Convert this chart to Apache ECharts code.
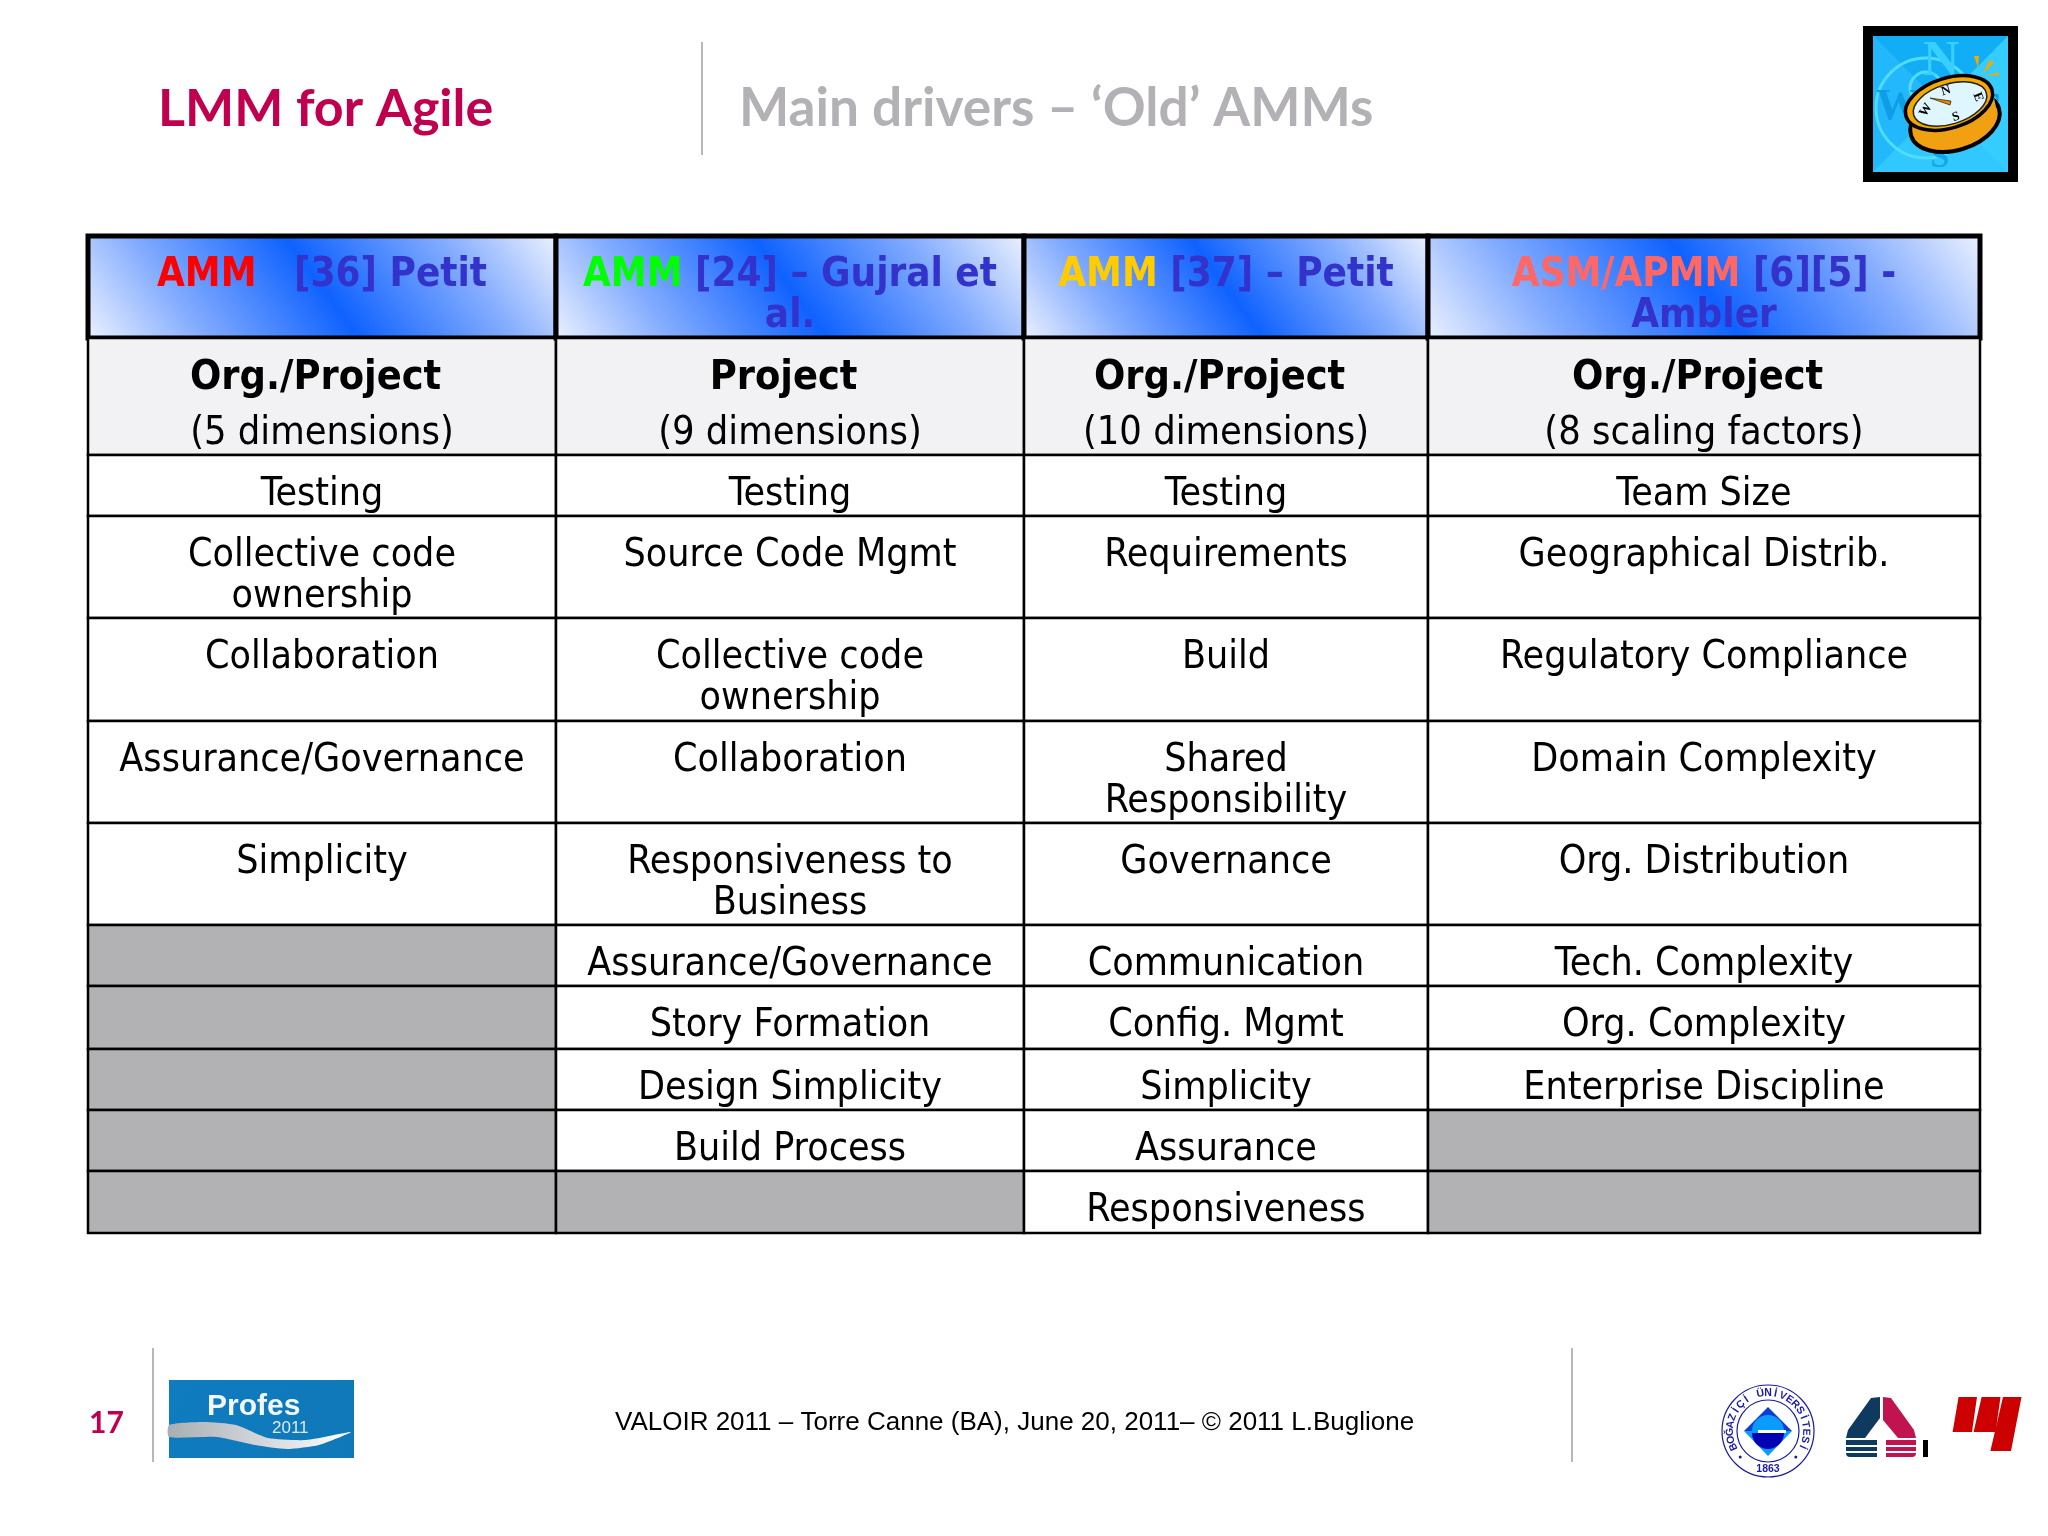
<!DOCTYPE html>
<html>
<head>
<meta charset="utf-8">
<title>LMM for Agile</title>
<script src="https://cdn.jsdelivr.net/npm/echarts@6/dist/echarts.min.js"></script>
<style>
html, body { margin: 0; padding: 0; background: #fff; }
#main { width: 2048px; height: 1536px; }
</style>
</head>
<body>
<div id="main"></div>
<script>
// table content, one list per column, null = greyed out cell
var headAmm = ['AMM', 'AMM', 'AMM', 'ASM/APMM'];
var headRef = ['   [36] Petit', ' [24] – Gujral et\nal.', ' [37] – Petit', ' [6][5] -\nAmbler'];
var headColor = ['#ff0000', '#00ff00', '#ffcc00', '#ff6666'];
var scopes = ['Org./Project', 'Project', 'Org./Project', 'Org./Project'];
var scopeNotes = ['(5 dimensions)', '(9 dimensions)', '(10 dimensions)', '(8 scaling factors)'];
var petit36 = ['Testing', 'Collective code\nownership', 'Collaboration', 'Assurance/Governance', 'Simplicity', null, null, null, null, null];
var gujral = ['Testing', 'Source Code Mgmt', 'Collective code\nownership', 'Collaboration', 'Responsiveness to\nBusiness', 'Assurance/Governance', 'Story Formation', 'Design Simplicity', 'Build Process', null];
var petit37 = ['Testing', 'Requirements', 'Build', 'Shared\nResponsibility', 'Governance', 'Communication', 'Config. Mgmt', 'Simplicity', 'Assurance', 'Responsiveness'];
var ambler = ['Team Size', 'Geographical Distrib.', 'Regulatory Compliance', 'Domain Complexity', 'Org. Distribution', 'Tech. Complexity', 'Org. Complexity', 'Enterprise Discipline', null, null];

// layout of the table
var colWidths = [468, 468, 404, 552];
var rowHeights = [102, 117, 61, 102, 103, 102, 102, 61, 63, 61, 61, 62];
var bodyFont = '"DejaVu Sans Condensed"';

function sum(list, n) {
    var s = 0;
    for (var i = 0; i < n; i++) s += list[i];
    return s;
}

var columns = [petit36, gujral, petit37, ambler];
var cells = [];
for (var c = 0; c < 4; c++) {
    cells.push({ value: [c, 0], kind: 'head' });
    cells.push({ value: [c, 1], kind: 'scope' });
    for (var r = 0; r < columns[c].length; r++) {
        cells.push({ value: [c, r + 2], kind: columns[c][r] === null ? 'grey' : 'body', text: columns[c][r] });
    }
}

// diagonal blue band, light in the lower left and upper right corners
function headGradient(w, h) {
    var len = Math.sqrt(100 * 100 + 70 * 70);
    var ux = 100 / len, uy = -70 / len;
    var d = (w / 2) * ux + (h / 2) * -uy;
    return new echarts.graphic.LinearGradient(
        0.5 - d * ux / w, 0.5 - d * uy / h, 0.5 + d * ux / w, 0.5 + d * uy / h,
        [{ offset: 0, color: '#f2f6ff' }, { offset: 0.22, color: '#85adff' }, { offset: 0.5, color: '#0f62ff' }, { offset: 0.78, color: '#85adff' }, { offset: 1, color: '#f2f6ff' }]
    );
}

function renderCell(params, api) {
    var c = api.value(0), r = api.value(1);
    var cell = cells[params.dataIndex];
    var p0 = api.coord([sum(colWidths, c), sum(rowHeights, r)]);
    var p1 = api.coord([sum(colWidths, c + 1), sum(rowHeights, r + 1)]);
    var x = p0[0], y = p0[1], w = p1[0] - p0[0], h = p1[1] - p0[1];
    var fill = '#ffffff';
    if (cell.kind === 'grey') fill = '#b2b2b4';
    if (cell.kind === 'scope') fill = '#f2f2f4';
    if (cell.kind === 'head') fill = headGradient(w, h);
    var kids = [{
        type: 'rect',
        shape: { x: x, y: y, width: w, height: h },
        style: { fill: fill, stroke: '#000', lineWidth: cell.kind === 'head' ? 5 : 2.5 }
    }];
    var cx = x + w / 2;
    if (cell.kind === 'head') {
        kids.push({
            type: 'text',
            style: {
                x: cx, y: y + 19, align: 'center', verticalAlign: 'top',
                text: '{amm|' + headAmm[c] + '}{ref|' + headRef[c].replace('\n', '}\n{ref|') + '}',
                rich: {
                    amm: { fontFamily: bodyFont, fontWeight: 'bold', fontSize: 40, lineHeight: 41, fill: headColor[c], color: headColor[c] },
                    ref: { fontFamily: bodyFont, fontWeight: 'bold', fontSize: 40, lineHeight: 41, fill: '#3333cc', color: '#3333cc' }
                }
            }
        });
    } else if (cell.kind === 'scope') {
        // the bold line sits a little left of centre, it has a trailing space
        kids.push({
            type: 'text',
            style: {
                x: cx, y: y + 13, align: 'center', verticalAlign: 'top',
                text: '{b|' + scopes[c] + '\u00a0}\n{n|' + scopeNotes[c] + '}',
                rich: {
                    b: { fontFamily: bodyFont, fontWeight: 'bold', fontSize: 41, lineHeight: 55, color: '#000' },
                    n: { fontFamily: bodyFont, fontSize: 39.4, lineHeight: 55, color: '#000' }
                }
            }
        });
    } else if (cell.kind === 'body') {
        kids.push({
            type: 'text',
            style: {
                x: cx, y: y + 19, align: 'center', verticalAlign: 'top',
                text: cell.text, fontFamily: bodyFont, fontSize: 39, lineHeight: 41, fill: '#000'
            }
        });
    }
    return { type: 'group', children: kids };
}

// compass picture, top right corner
function compassIcon() {
    var ox = 1873, oy = 36, w = 135, h = 136, mx = ox + w / 2, my = oy + h / 2;
    function letter(t, x, y, size, col) {
        return { type: 'text', style: { text: t, x: x, y: y, align: 'center', verticalAlign: 'middle', fontFamily: '"Liberation Serif"', fontWeight: 'bold', fontSize: size, fill: col } };
    }
    function dial(t, x, y, rot) {
        return { type: 'text', x: x, y: y, rotation: rot, style: { text: t, align: 'center', verticalAlign: 'middle', fontFamily: '"Liberation Serif"', fontWeight: 'bold', fontSize: 13, fill: '#000' } };
    }
    function ell(cx, cy, rx, ry, fill, stroke, lw) {
        return { type: 'ellipse', x: cx, y: cy, rotation: 0.3, shape: { cx: 0, cy: 0, rx: rx, ry: ry }, style: { fill: fill, stroke: stroke, lineWidth: lw } };
    }
    return [
        { type: 'rect', shape: { x: 1863, y: 26, width: 155, height: 156 }, style: { fill: '#000' } },
        { type: 'rect', shape: { x: ox, y: oy, width: w, height: h }, style: { fill: '#35ccff' } },
        { type: 'polygon', shape: { points: [[ox, oy], [ox + w, oy], [mx, my]] }, style: { fill: '#12aef5' } },
        { type: 'polygon', shape: { points: [[ox, oy + h], [ox + w, oy + h], [mx, my]] }, style: { fill: '#30c8ff' } },
        { type: 'polygon', shape: { points: [[ox, oy], [ox, oy + h], [mx, my]] }, style: { fill: '#22b8fb' } },
        { type: 'circle', shape: { cx: 1926, cy: 108, r: 50 }, style: { fill: 'none', stroke: '#4fdcff', lineWidth: 3 } },
        { type: 'circle', shape: { cx: 1926, cy: 88, r: 16 }, style: { fill: 'none', stroke: '#4fdcff', lineWidth: 3 } },
        letter('N', 1941, 62, 50, '#38cfff'), letter('W', 1898, 108, 44, '#0f9ee6'), letter('E', 1988, 112, 44, '#0f9ee6'), letter('S', 1940, 158, 34, '#12a6ea'),
        { type: 'polygon', shape: { points: [[1974, 56], [1979, 56], [1978, 68]] }, style: { fill: '#f5a800' } },
        { type: 'polygon', shape: { points: [[1990, 60], [1994, 63], [1982, 74]] }, style: { fill: '#f5a800' } },
        { type: 'polygon', shape: { points: [[1985, 76], [1999, 72], [1999, 75]] }, style: { fill: '#f5a800' } },
        ell(1955, 122, 46, 28, '#f0a010', '#000', 4),
        { type: 'polygon', shape: { points: [[1909, 112], [1913, 130], [1996, 108], [1993, 92]] }, style: { fill: '#f0a010' } },
        ell(1949, 103, 45, 25, '#f5a800', '#000', 3.5),
        ell(1950, 104, 38, 20, '#dff6ff', '#222', 1.5),
        { type: 'polygon', shape: { points: [[1930, 98], [1951, 101], [1950, 105]] }, style: { fill: '#e58a00', stroke: '#000', lineWidth: 0.6 } },
        dial('N', 1946, 91, 0.3), dial('E', 1978, 97, -1.2), dial('S', 1956, 117, 0.3), dial('W', 1926, 110, 1.0)
    ];
}

// blue conference badge next to the page number
function profesLogo() {
    return [
        { type: 'rect', shape: { x: 169, y: 1380, width: 185, height: 78 }, style: { fill: new echarts.graphic.LinearGradient(0, 0, 1, 1, [{ offset: 0, color: '#0f7cc0' }, { offset: 1, color: '#0f78b8' }]) } },
        { type: 'polygon', shape: { smooth: 0.2, points: [[169, 1425], [204, 1422], [236, 1425], [268, 1438], [306, 1440], [351, 1432], [319, 1445], [287, 1449], [255, 1445], [217, 1437], [169, 1437]] }, style: { fill: new echarts.graphic.LinearGradient(0, 0, 1, 0, [{ offset: 0, color: '#a9aeb2' }, { offset: 0.5, color: '#d2d6da' }, { offset: 1, color: '#ffffff' }]) } },
        { type: 'text', style: { text: 'Profes', x: 207, y: 1407, verticalAlign: 'middle', fontFamily: '"Liberation Sans"', fontWeight: 'bold', fontSize: 30, fill: '#f2f7fb' } },
        { type: 'text', style: { text: '2011', x: 272, y: 1428, verticalAlign: 'middle', fontFamily: '"Liberation Sans"', fontSize: 17, fill: '#dbeaf4' } }
    ];
}

// university seal with the name set around the ring
function sealLogo() {
    var cx = 1768, cy = 1431, name = 'BOĞAZİÇİ ÜNİVERSİTESİ';
    var els = [
        { type: 'circle', shape: { cx: cx, cy: cy, r: 46 }, style: { fill: '#fff', stroke: '#1a1aa0', lineWidth: 1.2 } },
        { type: 'circle', shape: { cx: cx, cy: cy, r: 31 }, style: { fill: '#fff', stroke: '#1a1aa0', lineWidth: 1.2 } },
        { type: 'polygon', shape: { points: [[cx - 24, cy], [cx, cy - 24], [cx + 24, cy]] }, style: { fill: '#0a3fd0' } },
        { type: 'polygon', shape: { points: [[cx - 24, cy], [cx, cy + 25], [cx + 24, cy]] }, style: { fill: '#0a9bff' } },
        { type: 'sector', shape: { cx: cx, cy: cy, r: 16, startAngle: Math.PI, endAngle: 2 * Math.PI }, style: { fill: '#0a9bff' } },
        { type: 'sector', shape: { cx: cx, cy: cy + 2, r: 16, startAngle: 0, endAngle: Math.PI }, style: { fill: '#0000b4' } },
        { type: 'rect', shape: { x: cx - 10, y: cy - 1, width: 28, height: 3 }, style: { fill: '#fff' } },
        { type: 'text', style: { text: '1863', x: cx, y: cy + 38, align: 'center', verticalAlign: 'middle', fontFamily: '"Liberation Sans"', fontWeight: 'bold', fontSize: 10.5, fill: '#1a1aa0' } }
    ];
    var span = 2.0;
    for (var i = 0; i < name.length; i++) {
        var a = -span + (2 * span) * i / (name.length - 1);
        els.push({
            type: 'text', x: cx + 38 * Math.sin(a), y: cy - 38 * Math.cos(a), rotation: -a,
            style: { text: name.charAt(i), align: 'center', verticalAlign: 'middle', fontFamily: '"Liberation Sans"', fontWeight: 'bold', fontSize: 10.5, fill: '#1a1aa0' }
        });
    }
    els.push({ type: 'circle', shape: { cx: cx - 38 * Math.sin(2.32), cy: cy - 38 * Math.cos(2.32), r: 1.5 }, style: { fill: '#1a1aa0' } });
    els.push({ type: 'circle', shape: { cx: cx + 38 * Math.sin(2.32), cy: cy - 38 * Math.cos(2.32), r: 1.5 }, style: { fill: '#1a1aa0' } });
    return els;
}

function otherLogos() {
    var navy = '#0f3a5f', crim = '#c0134f', red = '#cc0000';
    var els = [
        { type: 'polygon', shape: { points: [[1880, 1397], [1871, 1398], [1848, 1430], [1846, 1438], [1865, 1438], [1880, 1418]] }, style: { fill: navy } },
        { type: 'polygon', shape: { points: [[1883, 1397], [1891, 1398], [1914, 1430], [1916, 1438], [1898, 1438], [1883, 1420]] }, style: { fill: crim } },
        { type: 'rect', shape: { x: 1923, y: 1440, width: 5, height: 17 }, style: { fill: '#000' } },
        { type: 'polygon', shape: { points: [[1958.6, 1397], [1977, 1397], [1972, 1432], [1952.6, 1432]] }, style: { fill: red } },
        { type: 'polygon', shape: { points: [[1981.6, 1397], [2000.5, 1397], [1995.6, 1432], [1973.6, 1432]] }, style: { fill: red } },
        { type: 'polygon', shape: { points: [[2003, 1397], [2021.5, 1397], [2011, 1451], [1990.4, 1451]] }, style: { fill: red } }
    ];
    var bars = [[1440, 5], [1447, 4], [1453, 4]];
    for (var i = 0; i < bars.length; i++) {
        els.push({ type: 'rect', shape: { x: 1846, y: bars[i][0], width: 31, height: bars[i][1], r: i === 2 ? [0, 0, 0, 6] : 0 }, style: { fill: navy } });
        els.push({ type: 'rect', shape: { x: 1886, y: bars[i][0], width: 30, height: bars[i][1], r: i === 2 ? [0, 0, 6, 0] : 0 }, style: { fill: crim } });
    }
    return els;
}

function vline(x, y1, y2) {
    return { type: 'line', shape: { x1: x, y1: y1, x2: x, y2: y2 }, style: { stroke: '#b8b8ba', lineWidth: 2 } };
}

var myChart = echarts.init(document.getElementById('main'));
var option = {
    backgroundColor: '#ffffff',
    animation: false,
    title: [
        { text: 'LMM for Agile', left: 158, top: 77, padding: 0, textStyle: { fontFamily: 'Lato', fontWeight: 'bold', fontSize: 52, color: '#c0004e', lineHeight: 64 } },
        { text: 'Main drivers – ‘Old’ AMMs', left: 739, top: 77, padding: 0, textStyle: { fontFamily: 'Lato', fontWeight: 'bold', fontSize: 53.2, color: '#b3b1b6', lineHeight: 64 } },
        { text: '17', left: 89, top: 1403, padding: 0, textStyle: { fontFamily: 'Lato', fontWeight: 'bold', fontSize: 30, color: '#c0004e', lineHeight: 40 } },
        { text: 'VALOIR 2011 – Torre Canne (BA), June 20, 2011– © 2011 L.Buglione', left: 615, top: 1408, padding: 0, textStyle: { fontFamily: '"Liberation Sans"', fontWeight: 'normal', fontSize: 26, color: '#000', lineHeight: 30 } }
    ],
    grid: { left: 88, top: 236, width: sum(colWidths, 4), height: sum(rowHeights, 12) },
    xAxis: { type: 'value', min: 0, max: sum(colWidths, 4), show: false },
    yAxis: { type: 'value', min: 0, max: sum(rowHeights, 12), inverse: true, show: false },
    graphic: [].concat(
        [vline(702, 42, 155), vline(153, 1348, 1462), vline(1572, 1348, 1462)],
        compassIcon(), profesLogo(), sealLogo(), otherLogos()
    ),
    series: [{
        type: 'custom',
        silent: true,
        clip: false,
        renderItem: renderCell,
        encode: { x: 0, y: 1 },
        data: cells
    }]
};
myChart.setOption(option);
</script>
</body>
</html>
